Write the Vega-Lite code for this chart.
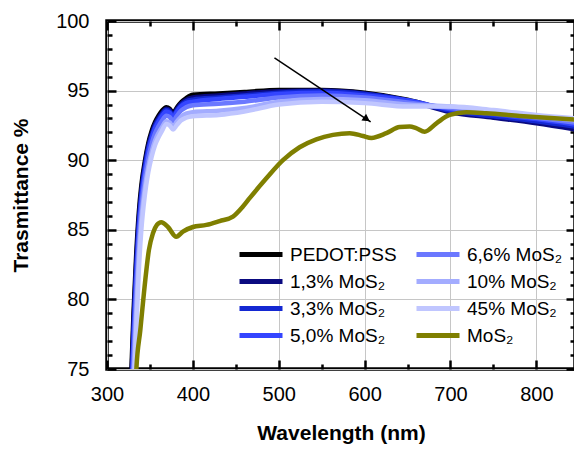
{
  "$schema": "https://vega.github.io/schema/vega-lite/v6.json",
  "width": 468,
  "height": 348,
  "autosize": {"type": "none"},
  "padding": {"left": 107, "top": 21, "right": 0, "bottom": 82},
  "background": "white",
  "config": {
    "view": {"stroke": "black", "strokeWidth": 3.5},
    "font": "Liberation Sans"
  },
  "datasets": {
    "spectra": [
      {"s": "PEDOT:PSS", "nm": 325, "T": 69}, {"s": "PEDOT:PSS", "nm": 328, "T": 74.2}, {"s": "PEDOT:PSS", "nm": 331, "T": 79.2}, {"s": "PEDOT:PSS", "nm": 334, "T": 83.2}, {"s": "PEDOT:PSS", "nm": 337, "T": 86.2}, {"s": "PEDOT:PSS", "nm": 340, "T": 88.2}, {"s": "PEDOT:PSS", "nm": 344, "T": 89.9}, {"s": "PEDOT:PSS", "nm": 348, "T": 91.2}, {"s": "PEDOT:PSS", "nm": 352, "T": 92.1}, {"s": "PEDOT:PSS", "nm": 356, "T": 92.75}, {"s": "PEDOT:PSS", "nm": 360, "T": 93.2}, {"s": "PEDOT:PSS", "nm": 364, "T": 93.55}, {"s": "PEDOT:PSS", "nm": 369, "T": 93.8}, {"s": "PEDOT:PSS", "nm": 373, "T": 93.7}, {"s": "PEDOT:PSS", "nm": 377, "T": 93.4}, {"s": "PEDOT:PSS", "nm": 381, "T": 93.75}, {"s": "PEDOT:PSS", "nm": 386, "T": 94.15}, {"s": "PEDOT:PSS", "nm": 392, "T": 94.45}, {"s": "PEDOT:PSS", "nm": 400, "T": 94.7}, {"s": "PEDOT:PSS", "nm": 430, "T": 94.8}, {"s": "PEDOT:PSS", "nm": 460, "T": 94.9}, {"s": "PEDOT:PSS", "nm": 500, "T": 95.05}, {"s": "PEDOT:PSS", "nm": 550, "T": 95.05}, {"s": "PEDOT:PSS", "nm": 600, "T": 94.85}, {"s": "PEDOT:PSS", "nm": 650, "T": 94.35}, {"s": "PEDOT:PSS", "nm": 700, "T": 93.55}, {"s": "PEDOT:PSS", "nm": 750, "T": 93.15}, {"s": "PEDOT:PSS", "nm": 800, "T": 92.75}, {"s": "PEDOT:PSS", "nm": 846, "T": 92.3},

      {"s": "1,3% MoS₂", "nm": 325, "T": 68.2}, {"s": "1,3% MoS₂", "nm": 328, "T": 73.4}, {"s": "1,3% MoS₂", "nm": 331, "T": 78.5}, {"s": "1,3% MoS₂", "nm": 334, "T": 82.6}, {"s": "1,3% MoS₂", "nm": 337, "T": 85.75}, {"s": "1,3% MoS₂", "nm": 340, "T": 87.85}, {"s": "1,3% MoS₂", "nm": 344, "T": 89.65}, {"s": "1,3% MoS₂", "nm": 348, "T": 91.0}, {"s": "1,3% MoS₂", "nm": 352, "T": 91.9}, {"s": "1,3% MoS₂", "nm": 356, "T": 92.6}, {"s": "1,3% MoS₂", "nm": 360, "T": 93.05}, {"s": "1,3% MoS₂", "nm": 364, "T": 93.4}, {"s": "1,3% MoS₂", "nm": 369, "T": 93.7}, {"s": "1,3% MoS₂", "nm": 373, "T": 93.6}, {"s": "1,3% MoS₂", "nm": 377, "T": 93.3}, {"s": "1,3% MoS₂", "nm": 381, "T": 93.65}, {"s": "1,3% MoS₂", "nm": 386, "T": 94.05}, {"s": "1,3% MoS₂", "nm": 392, "T": 94.33}, {"s": "1,3% MoS₂", "nm": 400, "T": 94.5}, {"s": "1,3% MoS₂", "nm": 430, "T": 94.65}, {"s": "1,3% MoS₂", "nm": 460, "T": 94.8}, {"s": "1,3% MoS₂", "nm": 500, "T": 94.95}, {"s": "1,3% MoS₂", "nm": 550, "T": 95.0}, {"s": "1,3% MoS₂", "nm": 600, "T": 94.8}, {"s": "1,3% MoS₂", "nm": 650, "T": 94.3}, {"s": "1,3% MoS₂", "nm": 700, "T": 93.45}, {"s": "1,3% MoS₂", "nm": 750, "T": 93.05}, {"s": "1,3% MoS₂", "nm": 800, "T": 92.65}, {"s": "1,3% MoS₂", "nm": 846, "T": 92.2},

      {"s": "3,3% MoS₂", "nm": 325, "T": 67.4}, {"s": "3,3% MoS₂", "nm": 328, "T": 72.65}, {"s": "3,3% MoS₂", "nm": 331, "T": 77.8}, {"s": "3,3% MoS₂", "nm": 334, "T": 82.05}, {"s": "3,3% MoS₂", "nm": 337, "T": 85.3}, {"s": "3,3% MoS₂", "nm": 340, "T": 87.5}, {"s": "3,3% MoS₂", "nm": 344, "T": 89.4}, {"s": "3,3% MoS₂", "nm": 348, "T": 90.8}, {"s": "3,3% MoS₂", "nm": 352, "T": 91.75}, {"s": "3,3% MoS₂", "nm": 356, "T": 92.45}, {"s": "3,3% MoS₂", "nm": 360, "T": 92.92}, {"s": "3,3% MoS₂", "nm": 364, "T": 93.3}, {"s": "3,3% MoS₂", "nm": 369, "T": 93.6}, {"s": "3,3% MoS₂", "nm": 373, "T": 93.5}, {"s": "3,3% MoS₂", "nm": 377, "T": 93.2}, {"s": "3,3% MoS₂", "nm": 381, "T": 93.55}, {"s": "3,3% MoS₂", "nm": 386, "T": 93.95}, {"s": "3,3% MoS₂", "nm": 392, "T": 94.22}, {"s": "3,3% MoS₂", "nm": 400, "T": 94.35}, {"s": "3,3% MoS₂", "nm": 430, "T": 94.5}, {"s": "3,3% MoS₂", "nm": 460, "T": 94.65}, {"s": "3,3% MoS₂", "nm": 500, "T": 94.85}, {"s": "3,3% MoS₂", "nm": 550, "T": 94.95}, {"s": "3,3% MoS₂", "nm": 600, "T": 94.75}, {"s": "3,3% MoS₂", "nm": 650, "T": 94.3}, {"s": "3,3% MoS₂", "nm": 700, "T": 93.55}, {"s": "3,3% MoS₂", "nm": 750, "T": 93.15}, {"s": "3,3% MoS₂", "nm": 800, "T": 92.8}, {"s": "3,3% MoS₂", "nm": 846, "T": 92.4},

      {"s": "5,0% MoS₂", "nm": 325, "T": 66.7}, {"s": "5,0% MoS₂", "nm": 328, "T": 71.9}, {"s": "5,0% MoS₂", "nm": 331, "T": 77.1}, {"s": "5,0% MoS₂", "nm": 334, "T": 81.5}, {"s": "5,0% MoS₂", "nm": 337, "T": 84.9}, {"s": "5,0% MoS₂", "nm": 340, "T": 87.2}, {"s": "5,0% MoS₂", "nm": 344, "T": 89.15}, {"s": "5,0% MoS₂", "nm": 348, "T": 90.58}, {"s": "5,0% MoS₂", "nm": 352, "T": 91.58}, {"s": "5,0% MoS₂", "nm": 356, "T": 92.3}, {"s": "5,0% MoS₂", "nm": 360, "T": 92.78}, {"s": "5,0% MoS₂", "nm": 364, "T": 93.17}, {"s": "5,0% MoS₂", "nm": 369, "T": 93.5}, {"s": "5,0% MoS₂", "nm": 373, "T": 93.4}, {"s": "5,0% MoS₂", "nm": 377, "T": 93.1}, {"s": "5,0% MoS₂", "nm": 381, "T": 93.45}, {"s": "5,0% MoS₂", "nm": 386, "T": 93.85}, {"s": "5,0% MoS₂", "nm": 392, "T": 94.1}, {"s": "5,0% MoS₂", "nm": 400, "T": 94.2}, {"s": "5,0% MoS₂", "nm": 430, "T": 94.4}, {"s": "5,0% MoS₂", "nm": 460, "T": 94.55}, {"s": "5,0% MoS₂", "nm": 500, "T": 94.75}, {"s": "5,0% MoS₂", "nm": 550, "T": 94.85}, {"s": "5,0% MoS₂", "nm": 600, "T": 94.65}, {"s": "5,0% MoS₂", "nm": 650, "T": 94.3}, {"s": "5,0% MoS₂", "nm": 700, "T": 93.65}, {"s": "5,0% MoS₂", "nm": 750, "T": 93.3}, {"s": "5,0% MoS₂", "nm": 800, "T": 92.95}, {"s": "5,0% MoS₂", "nm": 846, "T": 92.55},

      {"s": "6,6% MoS₂", "nm": 325, "T": 65.4}, {"s": "6,6% MoS₂", "nm": 328, "T": 70.6}, {"s": "6,6% MoS₂", "nm": 331, "T": 75.9}, {"s": "6,6% MoS₂", "nm": 334, "T": 80.5}, {"s": "6,6% MoS₂", "nm": 337, "T": 84.1}, {"s": "6,6% MoS₂", "nm": 340, "T": 86.55}, {"s": "6,6% MoS₂", "nm": 344, "T": 88.65}, {"s": "6,6% MoS₂", "nm": 348, "T": 90.12}, {"s": "6,6% MoS₂", "nm": 352, "T": 91.17}, {"s": "6,6% MoS₂", "nm": 356, "T": 91.93}, {"s": "6,6% MoS₂", "nm": 360, "T": 92.43}, {"s": "6,6% MoS₂", "nm": 364, "T": 92.83}, {"s": "6,6% MoS₂", "nm": 369, "T": 93.2}, {"s": "6,6% MoS₂", "nm": 373, "T": 93.1}, {"s": "6,6% MoS₂", "nm": 377, "T": 92.8}, {"s": "6,6% MoS₂", "nm": 381, "T": 93.15}, {"s": "6,6% MoS₂", "nm": 386, "T": 93.55}, {"s": "6,6% MoS₂", "nm": 392, "T": 93.8}, {"s": "6,6% MoS₂", "nm": 400, "T": 93.95}, {"s": "6,6% MoS₂", "nm": 430, "T": 94.05}, {"s": "6,6% MoS₂", "nm": 460, "T": 94.2}, {"s": "6,6% MoS₂", "nm": 500, "T": 94.5}, {"s": "6,6% MoS₂", "nm": 550, "T": 94.65}, {"s": "6,6% MoS₂", "nm": 600, "T": 94.5}, {"s": "6,6% MoS₂", "nm": 650, "T": 94.15}, {"s": "6,6% MoS₂", "nm": 700, "T": 93.75}, {"s": "6,6% MoS₂", "nm": 750, "T": 93.4}, {"s": "6,6% MoS₂", "nm": 800, "T": 93.05}, {"s": "6,6% MoS₂", "nm": 846, "T": 92.7},

      {"s": "10% MoS₂", "nm": 325, "T": 63.7}, {"s": "10% MoS₂", "nm": 328, "T": 68.9}, {"s": "10% MoS₂", "nm": 331, "T": 74.2}, {"s": "10% MoS₂", "nm": 334, "T": 79.0}, {"s": "10% MoS₂", "nm": 337, "T": 83.0}, {"s": "10% MoS₂", "nm": 340, "T": 85.7}, {"s": "10% MoS₂", "nm": 344, "T": 87.95}, {"s": "10% MoS₂", "nm": 348, "T": 89.5}, {"s": "10% MoS₂", "nm": 352, "T": 90.6}, {"s": "10% MoS₂", "nm": 356, "T": 91.42}, {"s": "10% MoS₂", "nm": 360, "T": 91.95}, {"s": "10% MoS₂", "nm": 364, "T": 92.37}, {"s": "10% MoS₂", "nm": 369, "T": 92.8}, {"s": "10% MoS₂", "nm": 373, "T": 92.7}, {"s": "10% MoS₂", "nm": 377, "T": 92.4}, {"s": "10% MoS₂", "nm": 381, "T": 92.75}, {"s": "10% MoS₂", "nm": 386, "T": 93.1}, {"s": "10% MoS₂", "nm": 392, "T": 93.35}, {"s": "10% MoS₂", "nm": 400, "T": 93.45}, {"s": "10% MoS₂", "nm": 430, "T": 93.55}, {"s": "10% MoS₂", "nm": 460, "T": 93.75}, {"s": "10% MoS₂", "nm": 500, "T": 94.2}, {"s": "10% MoS₂", "nm": 550, "T": 94.4}, {"s": "10% MoS₂", "nm": 600, "T": 94.3}, {"s": "10% MoS₂", "nm": 650, "T": 94.0}, {"s": "10% MoS₂", "nm": 700, "T": 93.85}, {"s": "10% MoS₂", "nm": 750, "T": 93.5}, {"s": "10% MoS₂", "nm": 800, "T": 93.15}, {"s": "10% MoS₂", "nm": 846, "T": 92.85},

      {"s": "45% MoS₂", "nm": 325, "T": 62.2}, {"s": "45% MoS₂", "nm": 328, "T": 67.5}, {"s": "45% MoS₂", "nm": 331, "T": 72.8}, {"s": "45% MoS₂", "nm": 334, "T": 77.7}, {"s": "45% MoS₂", "nm": 337, "T": 82.0}, {"s": "45% MoS₂", "nm": 340, "T": 85.0}, {"s": "45% MoS₂", "nm": 344, "T": 87.45}, {"s": "45% MoS₂", "nm": 348, "T": 89.1}, {"s": "45% MoS₂", "nm": 352, "T": 90.25}, {"s": "45% MoS₂", "nm": 356, "T": 91.1}, {"s": "45% MoS₂", "nm": 360, "T": 91.65}, {"s": "45% MoS₂", "nm": 364, "T": 92.1}, {"s": "45% MoS₂", "nm": 369, "T": 92.6}, {"s": "45% MoS₂", "nm": 373, "T": 92.5}, {"s": "45% MoS₂", "nm": 377, "T": 92.2}, {"s": "45% MoS₂", "nm": 381, "T": 92.5}, {"s": "45% MoS₂", "nm": 386, "T": 92.85}, {"s": "45% MoS₂", "nm": 392, "T": 93.05}, {"s": "45% MoS₂", "nm": 400, "T": 93.15}, {"s": "45% MoS₂", "nm": 430, "T": 93.25}, {"s": "45% MoS₂", "nm": 460, "T": 93.5}, {"s": "45% MoS₂", "nm": 500, "T": 94.0}, {"s": "45% MoS₂", "nm": 550, "T": 94.2}, {"s": "45% MoS₂", "nm": 600, "T": 94.1}, {"s": "45% MoS₂", "nm": 650, "T": 93.85}, {"s": "45% MoS₂", "nm": 700, "T": 93.85}, {"s": "45% MoS₂", "nm": 750, "T": 93.6}, {"s": "45% MoS₂", "nm": 800, "T": 93.25}, {"s": "45% MoS₂", "nm": 846, "T": 93.0},

      {"s": "MoS₂", "nm": 330, "T": 68}, {"s": "MoS₂", "nm": 334.2, "T": 75}, {"s": "MoS₂", "nm": 338.8, "T": 77.8}, {"s": "MoS₂", "nm": 344.6, "T": 81.4}, {"s": "MoS₂", "nm": 348.8, "T": 83.55}, {"s": "MoS₂", "nm": 353.5, "T": 84.75}, {"s": "MoS₂", "nm": 358.1, "T": 85.35}, {"s": "MoS₂", "nm": 363.2, "T": 85.55}, {"s": "MoS₂", "nm": 371, "T": 85.2}, {"s": "MoS₂", "nm": 380.7, "T": 84.5}, {"s": "MoS₂", "nm": 388.4, "T": 84.87}, {"s": "MoS₂", "nm": 400, "T": 85.2}, {"s": "MoS₂", "nm": 415.7, "T": 85.35}, {"s": "MoS₂", "nm": 431.2, "T": 85.63}, {"s": "MoS₂", "nm": 446.7, "T": 85.95}, {"s": "MoS₂", "nm": 458.3, "T": 86.67}, {"s": "MoS₂", "nm": 466.1, "T": 87.27}, {"s": "MoS₂", "nm": 485.6, "T": 88.7}, {"s": "MoS₂", "nm": 504.9, "T": 90.0}, {"s": "MoS₂", "nm": 524.3, "T": 90.93}, {"s": "MoS₂", "nm": 543.8, "T": 91.5}, {"s": "MoS₂", "nm": 563.1, "T": 91.82}, {"s": "MoS₂", "nm": 582.6, "T": 91.94}, {"s": "MoS₂", "nm": 598.1, "T": 91.74}, {"s": "MoS₂", "nm": 607.9, "T": 91.6}, {"s": "MoS₂", "nm": 625.3, "T": 91.94}, {"s": "MoS₂", "nm": 640.8, "T": 92.38}, {"s": "MoS₂", "nm": 652.5, "T": 92.42}, {"s": "MoS₂", "nm": 660, "T": 92.3}, {"s": "MoS₂", "nm": 669.9, "T": 92.05}, {"s": "MoS₂", "nm": 683.6, "T": 92.65}, {"s": "MoS₂", "nm": 699.1, "T": 93.25}, {"s": "MoS₂", "nm": 718.5, "T": 93.44}, {"s": "MoS₂", "nm": 741.8, "T": 93.37}, {"s": "MoS₂", "nm": 780.6, "T": 93.18}, {"s": "MoS₂", "nm": 846, "T": 92.92}
    ],
    "arrow": [{"nm": 495, "T": 97.35, "nm2": 607, "T2": 92.75}],
    "arrowhead": [{"nm": 602.5, "T": 92.95}]
  },
  "layer": [
    {
      "data": {"name": "spectra"},
      "mark": {"type": "line", "strokeWidth": 4.5, "clip": true, "interpolate": "monotone"},
      "encoding": {
        "x": {
          "field": "nm", "type": "quantitative",
          "scale": {"domain": [300, 845], "nice": false, "zero": false},
          "axis": {
            "orient": "bottom",
            "values": [300, 350, 400, 450, 500, 550, 600, 650, 700, 750, 800],
            "title": "Wavelength (nm)",
            "titleFont": "Liberation Sans", "titleFontSize": 21, "titleFontWeight": "bold", "titleColor": "black", "titlePadding": 14,
            "labelFont": "Liberation Sans", "labelFontSize": 20, "labelColor": "black", "labelPadding": 24,
            "labelExpr": "datum.value % 100 === 0 ? datum.label : ''",
            "labelFlush": false, "labelOverlap": false,
            "domain": false,
            "tickColor": "black", "tickWidth": 2.5,
            "tickSize": {"condition": {"test": "datum.value % 100 === 0", "value": -9}, "value": -5},
            "grid": true, "gridColor": "#c6c6c6", "gridWidth": 1,
            "gridOpacity": {"condition": {"test": "datum.value % 100 === 0", "value": 1}, "value": 0}
          }
        },
        "y": {
          "field": "T", "type": "quantitative",
          "scale": {"domain": [75, 100], "nice": false, "zero": false},
          "axis": {
            "orient": "left",
            "values": [75, 76, 77, 78, 79, 80, 81, 82, 83, 84, 85, 86, 87, 88, 89, 90, 91, 92, 93, 94, 95, 96, 97, 98, 99, 100],
            "title": "Trasmittance %",
            "titleFont": "Liberation Sans", "titleFontSize": 21, "titleFontWeight": "bold", "titleColor": "black", "titlePadding": 24,
            "labelFont": "Liberation Sans", "labelFontSize": 20, "labelColor": "black", "labelPadding": 27,
            "labelExpr": "datum.value % 5 === 0 ? datum.label : ''",
            "labelFlush": false, "labelOverlap": false,
            "domain": false,
            "tickColor": "black", "tickWidth": 2.5,
            "tickSize": {"condition": {"test": "datum.value % 5 === 0", "value": -9}, "value": -5},
            "grid": true, "gridColor": "#c6c6c6", "gridWidth": 1,
            "gridOpacity": {"condition": {"test": "datum.value % 5 === 0", "value": 1}, "value": 0}
          }
        },
        "color": {
          "field": "s", "type": "nominal",
          "scale": {
            "domain": ["PEDOT:PSS", "1,3% MoS₂", "3,3% MoS₂", "5,0% MoS₂", "6,6% MoS₂", "10% MoS₂", "45% MoS₂", "MoS₂"],
            "range": ["#000000", "#0a0a80", "#1428d2", "#3445ff", "#6b78ff", "#a3acff", "#c0c6ff", "#7f7f00"]
          },
          "legend": {
            "title": null, "orient": "none", "legendX": 130, "legendY": 220,
            "columns": 2, "columnPadding": 17, "rowPadding": 0, "padding": 0, "clipHeight": 27,
            "symbolType": "stroke", "symbolSize": 1849, "symbolStrokeWidth": 5,
            "labelFont": "Liberation Sans", "labelFontSize": 19, "labelColor": "black", "labelOffset": 5, "labelLimit": 200
          }
        }
      }
    },
    {
      "data": {"name": "arrow"},
      "mark": {"type": "rule", "color": "black", "strokeWidth": 1.5},
      "encoding": {
        "x": {
          "field": "nm", "type": "quantitative",
          "axis": {
            "orient": "top", "title": null, "labels": false, "domain": false, "grid": false,
            "values": [300, 350, 400, 450, 500, 550, 600, 650, 700, 750, 800],
            "tickColor": "black", "tickWidth": 2.5,
            "tickSize": {"condition": {"test": "datum.value % 100 === 0", "value": -9}, "value": -5}
          }
        },
        "x2": {"field": "nm2"},
        "y": {
          "field": "T", "type": "quantitative",
          "axis": {
            "orient": "right", "title": null, "labels": false, "domain": false, "grid": false,
            "values": [75, 76, 77, 78, 79, 80, 81, 82, 83, 84, 85, 86, 87, 88, 89, 90, 91, 92, 93, 94, 95, 96, 97, 98, 99, 100],
            "tickColor": "black", "tickWidth": 2.5,
            "tickSize": {"condition": {"test": "datum.value % 5 === 0", "value": -9}, "value": -5}
          }
        },
        "y2": {"field": "T2"}
      }
    },
    {
      "data": {"name": "arrowhead"},
      "mark": {"type": "point", "shape": "triangle-right", "angle": 34, "size": 70, "filled": true, "color": "black", "opacity": 1},
      "encoding": {
        "x": {"field": "nm", "type": "quantitative", "axis": null},
        "y": {"field": "T", "type": "quantitative", "axis": null}
      }
    }
  ],
  "resolve": {"axis": {"x": "independent", "y": "independent"}}
}
